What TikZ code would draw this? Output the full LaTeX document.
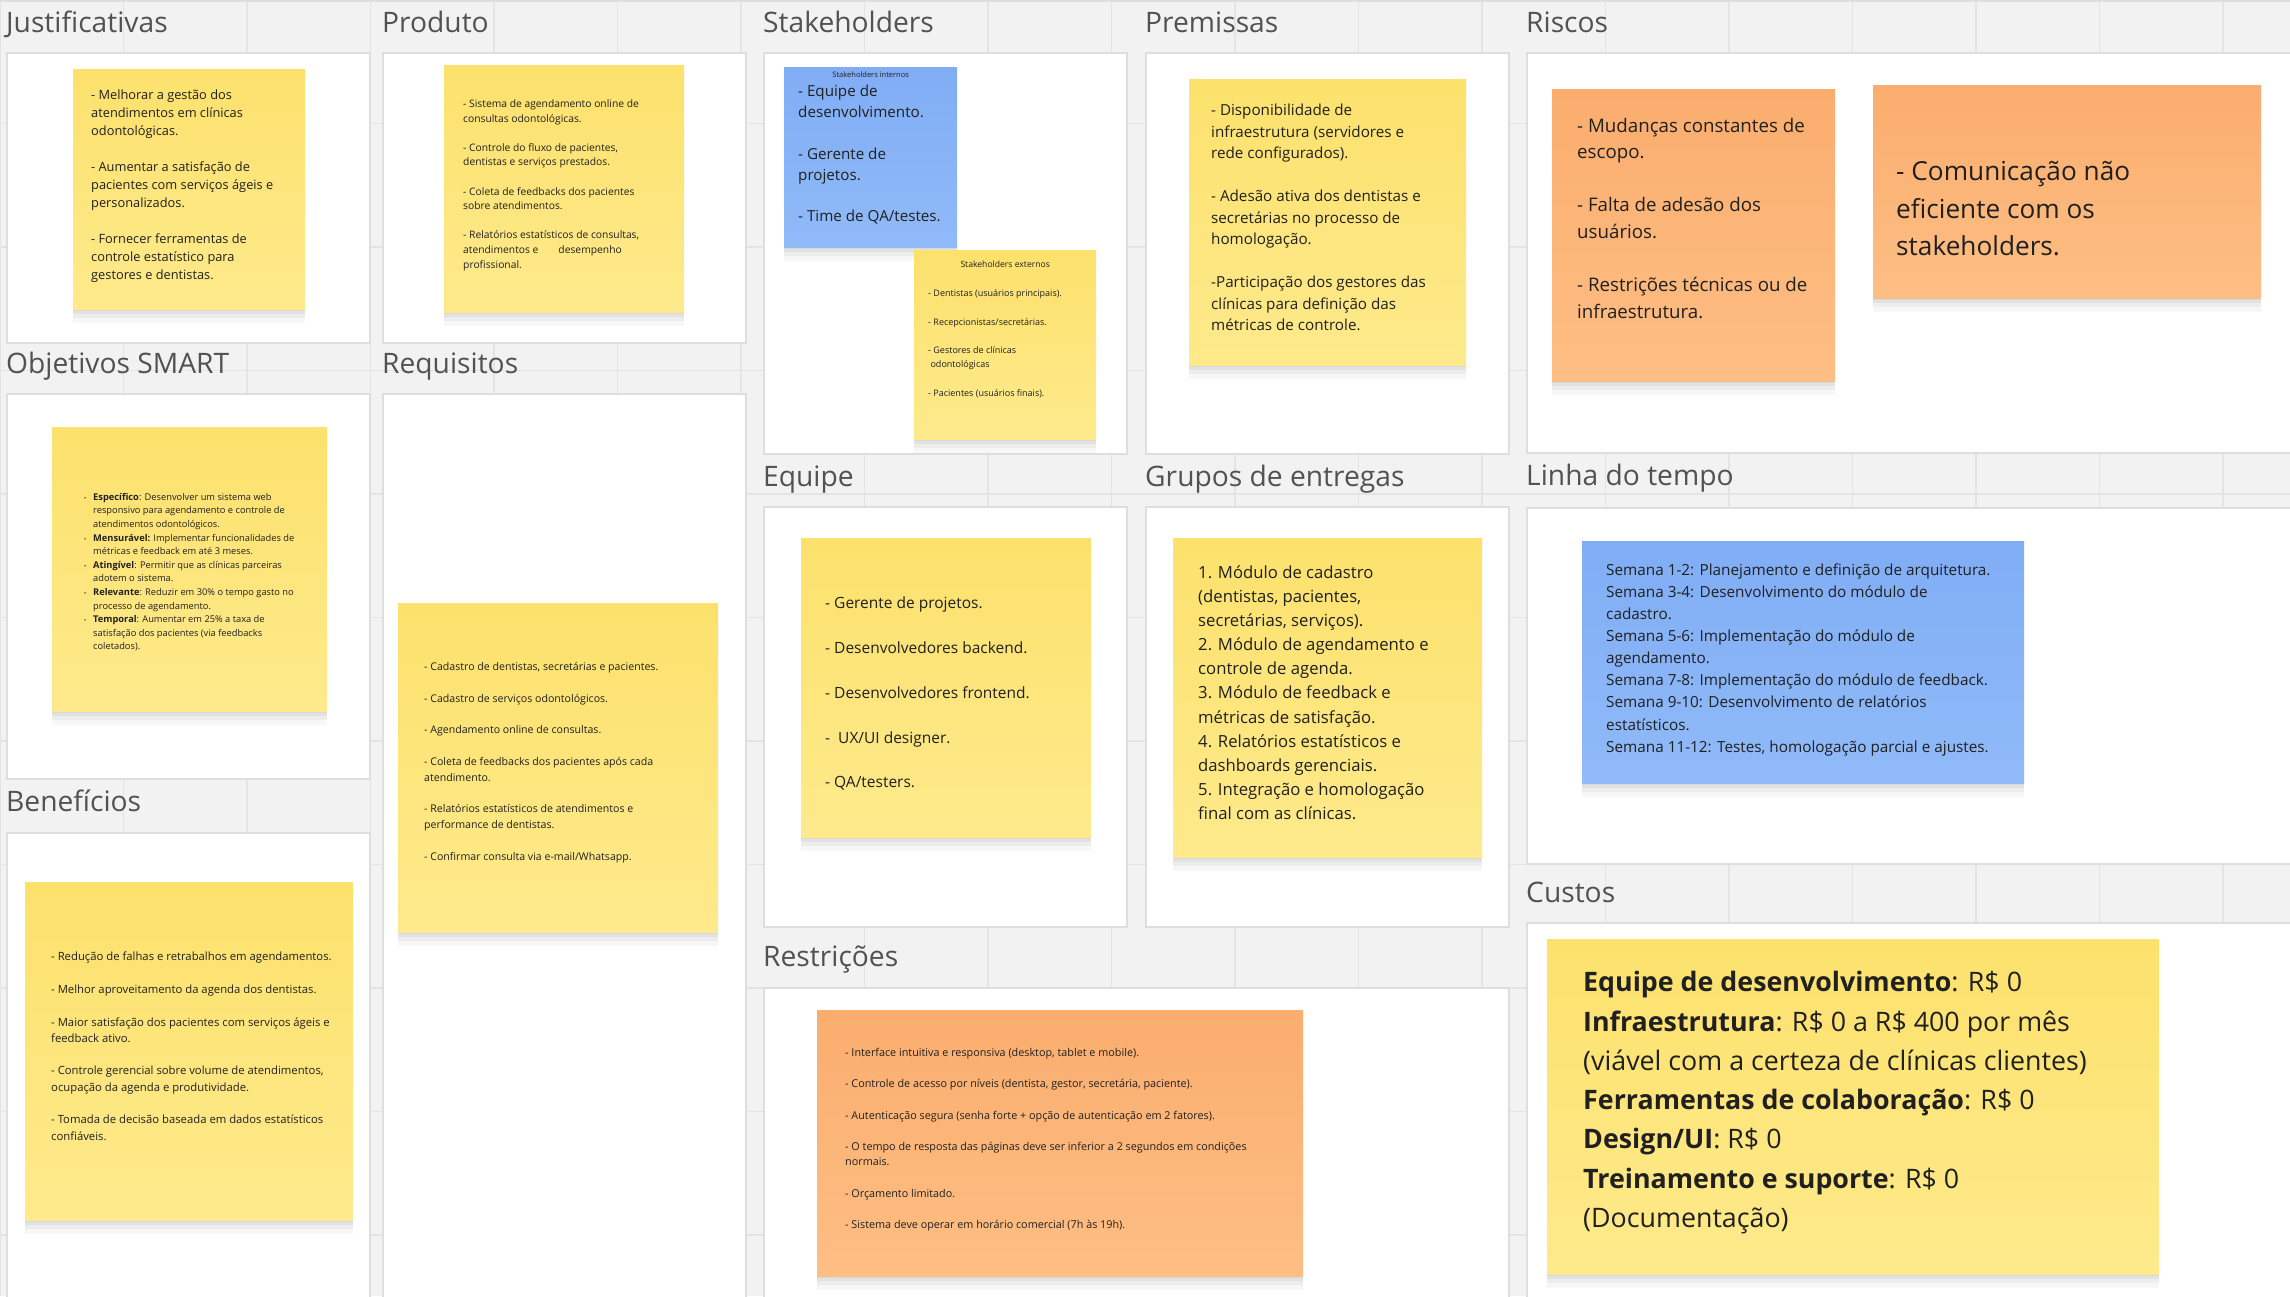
\documentclass[tikz,border=0pt]{standalone}
\usepackage{fontspec}
\setmainfont{Open Sans}
\usepackage{tikz}
\usetikzlibrary{positioning}
\definecolor{boardbg}{RGB}{242,242,242}
\definecolor{gridln}{RGB}{228,228,228}
\definecolor{panelln}{RGB}{222,222,222}
\definecolor{headfg}{RGB}{82,82,82}
\definecolor{notefg}{RGB}{32,32,32}
\definecolor{ytop}{RGB}{252,225,108}
\definecolor{ybot}{RGB}{254,234,140}
\definecolor{otop}{RGB}{250,173,110}
\definecolor{obot}{RGB}{254,190,132}
\definecolor{btop}{RGB}{128,173,245}
\definecolor{bbot}{RGB}{144,186,248}
\newcommand{\fsz}[2]{\fontsize{#1}{#2}\selectfont}
\newcommand{\blankline}{\\[\baselineskip]}
\newcommand{\bul}{\makebox[9pt][l]{\fsz{6}{6}•}}
\newcommand{\ind}{\hspace*{9pt}}

\begin{document}
\begin{tikzpicture}[x=1pt, y=-1pt,
			panel/.style={rectangle, draw=panelln, fill=white, line width=1.5pt, anchor=north west, inner sep=0pt},
			heading/.style={anchor=base west, inner sep=0pt, text=headfg, font=\fsz{28.2}{33}},
			note/.style={rectangle, anchor=north west, inner sep=0pt,
				preaction={fill=black, opacity=0.045, transform canvas={yshift=-2pt}},
				preaction={fill=black, opacity=0.045, transform canvas={yshift=-5pt}},
				preaction={fill=black, opacity=0.04, transform canvas={yshift=-9pt}},
				preaction={fill=black, opacity=0.03, transform canvas={yshift=-14pt}}},
			ynote/.style={note, top color=ytop, bottom color=ybot},
			onote/.style={note, top color=otop, bottom color=obot},
			bnote/.style={note, top color=btop, bottom color=bbot},
			notetext/.style={inner sep=0pt, align=left, text=notefg},
			gridline/.style={draw=gridln, line width=1.5pt}
		]
		\useasboundingbox (0,0) rectangle (2290,1296);
		\clip (0,0) rectangle (2290,1296);
		\fill[boardbg] (0,0) rectangle (2290,1296);
		\draw[gridline, step=123.5pt] (0,0) grid (2290,1296);
		\draw[panelln, line width=2pt] (0,1) -- (2290,1) ;

		% panels
		\node[panel, minimum width=363pt, minimum height=290pt] (pjus) at (6,52) {};
		\node[panel, minimum width=363pt, minimum height=385pt] (pobj) at (6,393) {};
		\node[panel, minimum width=363pt, minimum height=480pt] (pben) at (6,832) {};
		\node[panel, minimum width=363pt, minimum height=290pt] (pprod) at (382,52) {};
		\node[panel, minimum width=363pt, minimum height=920pt] (preq) at (382,393) {};
		\node[panel, minimum width=363pt, minimum height=401pt] (pstk) at (763,52) {};
		\node[panel, minimum width=363pt, minimum height=420pt] (pequ) at (763,506) {};
		\node[panel, minimum width=745pt, minimum height=330pt] (pres) at (763,987) {};
		\node[panel, minimum width=363pt, minimum height=401pt] (ppre) at (1145,52) {};
		\node[panel, minimum width=363pt, minimum height=420pt] (pgru) at (1145,506) {};
		\node[panel, minimum width=800pt, minimum height=400pt] (pris) at (1526,52) {};
		\node[panel, minimum width=800pt, minimum height=356pt] (plin) at (1526,507) {};
		\node[panel, minimum width=800pt, minimum height=400pt] (pcus) at (1526,922) {};

		\node[heading] (hjus) at ([yshift=20pt]pjus.north west) {Justificativas};
		\node[heading] (hobj) at ([yshift=20pt]pobj.north west) {Objetivos SMART};
		\node[heading] (hben) at ([yshift=21pt]pben.north west) {Benefícios};
		\node[heading] (hprod) at ([yshift=20pt]pprod.north west) {Produto};
		\node[heading] (hreq) at ([yshift=20pt]preq.north west) {Requisitos};
		\node[heading] (hstk) at ([yshift=20pt]pstk.north west) {Stakeholders};
		\node[heading] (hequ) at ([yshift=20pt]pequ.north west) {Equipe};
		\node[heading] (hres) at ([yshift=21pt]pres.north west) {Restrições};
		\node[heading] (hpre) at ([yshift=20pt]ppre.north west) {Premissas};
		\node[heading] (hgru) at ([yshift=20pt]pgru.north west) {Grupos de entregas};
		\node[heading] (hris) at ([yshift=20pt]pris.north west) {Riscos};
		\node[heading] (hlin) at ([yshift=22pt]plin.north west) {Linha do tempo};
		\node[heading] (hcus) at ([yshift=20pt]pcus.north west) {Custos};

		% sticky notes
		\node[ynote, minimum width=232pt, minimum height=240pt] (jus) at (73,69) {};
		\node[notetext, font=\fsz{12.8}{18}, right=18pt of jus.west, yshift=3.5pt] (jus-t)
		{- Melhorar a gestão dos\\ atendimentos em clínicas\\ odontológicas.\blankline
		 - Aumentar a satisfação de\\ pacientes com serviços ágeis e\\ personalizados.\blankline
		 - Fornecer ferramentas de\\ controle estatístico para\\ gestores e dentistas.};

		\node[ynote, minimum width=240pt, minimum height=247pt] (prod) at (444,65) {};
		\node[notetext, font=\fsz{10.3}{14.6}, right=19pt of prod.west, yshift=3.5pt] (prod-t)
		{- Sistema de agendamento online de\\ consultas odontológicas.\blankline
		 - Controle do fluxo de pacientes,\\ dentistas e serviços prestados.\blankline
		 - Coleta de feedbacks dos pacientes\\ sobre atendimentos.\blankline
		 - Relatórios estatísticos de consultas,\\ atendimentos e\hspace{20pt}desempenho\\ profissional.};

		\node[ynote, minimum width=275pt, minimum height=284pt] (obj) at (52,427) {};
		\node[notetext, font=\fsz{9.3}{13.6}, right=32pt of obj.west, yshift=-3pt] (obj-t)
		{\bul\textbf{Específico}: Desenvolver um sistema web\\ \ind responsivo para agendamento e controle de\\ \ind atendimentos odontológicos.\\
		 \bul\textbf{Mensurável:} Implementar funcionalidades de\\ \ind métricas e feedback em até 3 meses.\\
		 \bul\textbf{Atingível}: Permitir que as clínicas parceiras\\ \ind adotem o sistema.\\
		 \bul\textbf{Relevante}: Reduzir em 30\% o tempo gasto no\\ \ind processo de agendamento.\\
		 \bul\textbf{Temporal}: Aumentar em 25\% a taxa de\\ \ind satisfação dos pacientes (via feedbacks\\ \ind coletados).};

		\node[ynote, minimum width=328pt, minimum height=338pt] (ben) at (25,882) {};
		\node[notetext, font=\fsz{11.3}{16.3}, right=26pt of ben.west, yshift=5pt] (ben-t)
		{- Redução de falhas e retrabalhos em agendamentos.\blankline
		 - Melhor aproveitamento da agenda dos dentistas.\blankline
		 - Maior satisfação dos pacientes com serviços ágeis e\\ feedback ativo.\blankline
		 - Controle gerencial sobre volume de atendimentos,\\ ocupação da agenda e produtividade.\blankline
		 - Tomada de decisão baseada em dados estatísticos\\ confiáveis.};

		\node[ynote, minimum width=320pt, minimum height=329pt] (req) at (398,603) {};
		\node[notetext, font=\fsz{10.6}{15.8}, right=26pt of req.west, yshift=5pt] (req-t)
		{- Cadastro de dentistas, secretárias e pacientes.\blankline
		 - Cadastro de serviços odontológicos.\blankline
		 - Agendamento online de consultas.\blankline
		 - Coleta de feedbacks dos pacientes após cada\\ atendimento.\blankline
		 - Relatórios estatísticos de atendimentos e\\ performance de dentistas.\blankline
		 - Confirmar consulta via e-mail/Whatsapp.};

		\node[bnote, minimum width=173pt, minimum height=180pt] (stin) at (784,67) {};
		\node[notetext, font=\fsz{7.5}{9}, below=4.5pt of stin.north] (stin-h) {Stakeholders internos};
		\node[notetext, font=\fsz{15.2}{20.9}, right=14pt of stin.west, yshift=2.5pt] (stin-t)
		{- Equipe de\\ desenvolvimento.\blankline - Gerente de\\ projetos.\blankline - Time de QA/testes.};

		\node[ynote, minimum width=182pt, minimum height=189pt] (stex) at (914,250) {};
		\node[notetext, font=\fsz{8.6}{10}, below=11pt of stex.north] (stex-h) {Stakeholders externos};
		\node[notetext, font=\fsz{9}{14.2}, right=14pt of stex.west, yshift=1pt] (stex-t)
		{- Dentistas (usuários principais).\blankline - Recepcionistas/secretárias.\blankline
		 - Gestores de clínicas\\ \ odontológicas\blankline - Pacientes (usuários finais).};

		\node[ynote, minimum width=277pt, minimum height=286pt] (pre) at (1189,79) {};
		\node[notetext, font=\fsz{15.2}{21.5}, right=22pt of pre.west, yshift=4.5pt] (pre-t)
		{- Disponibilidade de\\ infraestrutura (servidores e\\ rede configurados).\blankline
		 - Adesão ativa dos dentistas e\\ secretárias no processo de\\ homologação.\blankline
		 -Participação dos gestores das\\ clínicas para definição das\\ métricas de controle.};

		\node[ynote, minimum width=290pt, minimum height=299pt] (equ) at (801,538) {};
		\node[notetext, font=\fsz{15.5}{22.4}, right=24pt of equ.west, yshift=-6pt] (equ-t)
		{- Gerente de projetos.\blankline - Desenvolvedores backend.\blankline
		 - Desenvolvedores frontend.\blankline -\ \ UX/UI designer.\blankline - QA/testers.};

		\node[ynote, minimum width=309pt, minimum height=319pt] (gru) at (1173,538) {};
		\node[notetext, font=\fsz{16.7}{24.1}, right=25pt of gru.west, yshift=5pt] (gru-t)
		{1. Módulo de cadastro\\ (dentistas, pacientes,\\ secretárias, serviços).\\
		 2. Módulo de agendamento e\\ controle de agenda.\\
		 3. Módulo de feedback e\\ métricas de satisfação.\\
		 4. Relatórios estatísticos e\\ dashboards gerenciais.\\
		 5. Integração e homologação\\ final com as clínicas.};

		\node[onote, minimum width=486pt, minimum height=266pt] (res) at (817,1010) {};
		\node[notetext, font=\fsz{10.8}{15.6}, right=28pt of res.west, yshift=3.5pt] (res-t)
		{- Interface intuitiva e responsiva (desktop, tablet e mobile).\blankline
		 - Controle de acesso por níveis (dentista, gestor, secretária, paciente).\blankline
		 - Autenticação segura (senha forte + opção de autenticação em 2 fatores).\blankline
		 - O tempo de resposta das páginas deve ser inferior a 2 segundos em condições\\ normais.\blankline
		 - Orçamento limitado.\blankline
		 - Sistema deve operar em horário comercial (7h às 19h).};

		\node[onote, minimum width=283pt, minimum height=292pt] (ris1) at (1552,89) {};
		\node[notetext, font=\fsz{18.7}{26.6}, right=25pt of ris1.west, yshift=17pt] (ris1-t)
		{- Mudanças constantes de\\ escopo.\blankline - Falta de adesão dos\\ usuários.\blankline
		 - Restrições técnicas ou de\\ infraestrutura.};

		\node[onote, minimum width=388pt, minimum height=213pt] (ris2) at (1873,85) {};
		\node[notetext, font=\fsz{26.2}{37.5}, right=23pt of ris2.west, yshift=-17pt] (ris2-t)
		{- Comunicação não\\ eficiente com os\\ stakeholders.};

		\node[bnote, minimum width=442pt, minimum height=242pt] (lin) at (1582,541) {};
		\node[notetext, font=\fsz{15.3}{22.1}, right=24pt of lin.west, yshift=2.5pt] (lin-t)
		{Semana 1-2: Planejamento e definição de arquitetura.\\
		 Semana 3-4: Desenvolvimento do módulo de\\ cadastro.\\
		 Semana 5-6: Implementação do módulo de\\ agendamento.\\
		 Semana 7-8: Implementação do módulo de feedback.\\
		 Semana 9-10: Desenvolvimento de relatórios\\ estatísticos.\\
		 Semana 11-12: Testes, homologação parcial e ajustes.};

		\node[ynote, minimum width=612pt, minimum height=335pt] (cus) at (1547,939) {};
		\node[notetext, font=\fsz{26.8}{39.3}, right=36pt of cus.west, yshift=4pt] (cus-t)
		{\textbf{Equipe de desenvolvimento}: R\$ 0\\
		 \textbf{Infraestrutura}: R\$ 0 a R\$ 400 por mês\\
		 (viável com a certeza de clínicas clientes)\\
		 \textbf{Ferramentas de colaboração}: R\$ 0\\
		 \textbf{Design/UI}: R\$ 0\\
		 \textbf{Treinamento e suporte}: R\$ 0\\
		 (Documentação)};
\end{tikzpicture}
\end{document}
